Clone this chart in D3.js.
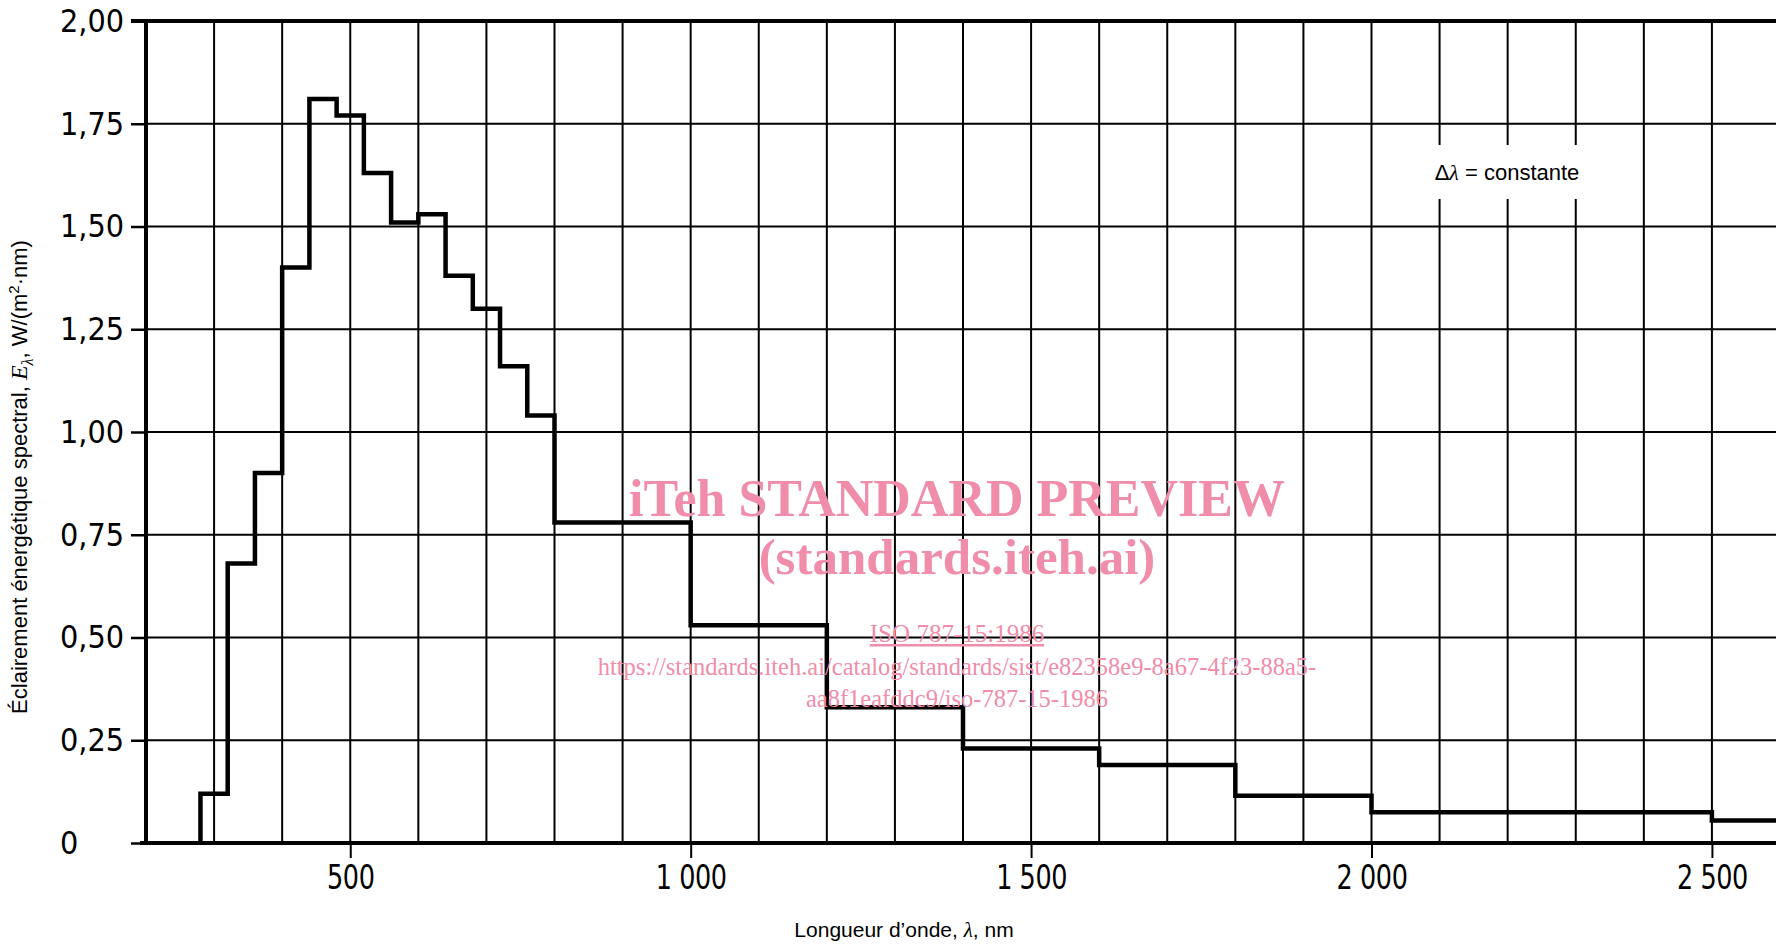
<!DOCTYPE html>
<html>
<head>
<meta charset="utf-8">
<script src="https://cdn.jsdelivr.net/npm/d3@7"></script>
<style>
  body { margin: 0; background: #fff; }
  svg { display: block; }
  .tick text { font-family: 'DejaVu Sans', sans-serif; font-stretch: condensed; }
</style>
</head>
<body>
<script>
const width = 1776,
      height = 945

// band lower edges (nm), upper edge of last band is outside the frame
const bandStart = [280, 320, 360, 400, 440, 480, 520, 560, 600, 640, 680, 720, 760, 800, 1000, 1200, 1400, 1600, 1800, 2000, 2500]
const bandEnd = [320, 360, 400, 440, 480, 520, 560, 600, 640, 680, 720, 760, 800, 1000, 1200, 1400, 1600, 1800, 2000, 2500, 3000]
// spectral irradiance W/(m2.nm)
const irradiance = [0.12, 0.68, 0.90, 1.40, 1.81, 1.77, 1.63, 1.51, 1.53, 1.38, 1.30, 1.16, 1.04, 0.78, 0.53, 0.33, 0.23, 0.19, 0.115, 0.075, 0.055]

const yTicks = [0, 0.25, 0.5, 0.75, 1, 1.25, 1.5, 1.75, 2]
const xTicks = [500, 1000, 1500, 2000, 2500]
const xGrid = d3.range(300, 2700, 100)

const svg = d3.select('body').append('svg')
    .attr('width', width)
    .attr('height', height)

svg.append('rect').attr('width', width).attr('height', height).attr('fill', '#fff')

const x = d3.scaleLinear().domain([200, 2600]).range([146, 1780])
const y = d3.scaleLinear().domain([0, 2]).range([843, 21])

// grid
svg.append('g').selectAll('line')
    .data(yTicks.slice(1, -1))
    .enter()
    .append('line')
        .attr('x1', x(200)).attr('x2', width)
        .attr('y1', d => y(d)).attr('y2', d => y(d))
        .style('stroke', '#000')
        .style('stroke-width', 2)

svg.append('g').selectAll('line')
    .data(xGrid)
    .enter()
    .append('line')
        .attr('x1', d => x(d)).attr('x2', d => x(d))
        .attr('y1', y(0)).attr('y2', y(2))
        .style('stroke', '#000')
        .style('stroke-width', 2)

// white box behind the note
svg.append('rect')
    .attr('x', 1428).attr('y', 145)
    .attr('width', 162).attr('height', 54)
    .attr('fill', '#fff')

const note = svg.append('text')
    .attr('x', 1507).attr('y', 180)
    .attr('text-anchor', 'middle')
    .style('font-family', 'Liberation Sans, Arial, sans-serif')
    .style('font-size', '22px')
note.append('tspan').text('Δ')
note.append('tspan').style('font-style', 'italic').style('font-family', 'Liberation Serif, serif').text('λ')
note.append('tspan').text(' = constante')

// y axis
const fmtY = d => d === 0 ? '0' : d3.format('.2f')(d).replace('.', ',')
const yAxis = svg.append('g')
    .attr('transform', `translate(${x(200)},0)`)
    .call(d3.axisLeft(y).tickValues(yTicks).tickSize(15).tickFormat(fmtY))
yAxis.select('.domain').remove()
yAxis.selectAll('.tick line').style('stroke', '#000').style('stroke-width', 2.5)
yAxis.selectAll('.tick text')
    .attr('x', -86)
    .attr('text-anchor', 'start')
    .style('font-size', '32px')
    .style('fill', '#000')

// x axis
const fmtX = d => d >= 1000 ? d3.format(',')(d).replace(',', ' ') : String(d)
const xAxis = svg.append('g')
    .attr('transform', `translate(0,${y(0)})`)
    .call(d3.axisBottom(x).tickValues(xTicks).tickSize(15).tickPadding(8).tickFormat(fmtX))
xAxis.select('.domain').remove()
xAxis.selectAll('.tick line').style('stroke', '#000').style('stroke-width', 2)
xAxis.selectAll('.tick text')
    .attr('transform', 'scale(0.86,1)')
    .style('font-size', '33px')
    .style('letter-spacing', '-0.5px')
    .style('fill', '#000')

// frame lines
svg.append('line')
    .attr('x1', x(200)).attr('x2', x(200))
    .attr('y1', y(2)).attr('y2', y(0))
    .style('stroke', '#000').style('stroke-width', 4)
svg.append('line')
    .attr('x1', x(200) - 15).attr('x2', width)
    .attr('y1', y(2)).attr('y2', y(2))
    .style('stroke', '#000').style('stroke-width', 4)
svg.append('line')
    .attr('x1', x(200) - 6).attr('x2', width)
    .attr('y1', y(0)).attr('y2', y(0))
    .style('stroke', '#000').style('stroke-width', 4)

// step curve
const pts = [[bandStart[0], 0]]
for (let i = 0; i < irradiance.length; i++) {
    pts.push([bandStart[i], irradiance[i]])
}
pts.push([bandEnd[bandEnd.length - 1], irradiance[irradiance.length - 1]])

const line = d3.line()
    .x(d => x(d[0]))
    .y(d => y(d[1]))
    .curve(d3.curveStepAfter)

svg.append('path')
    .datum(pts)
    .attr('d', line)
    .style('fill', 'none')
    .style('stroke', '#000')
    .style('stroke-width', 4.5)
    .style('stroke-linejoin', 'miter')

// axis titles
const yTitle = svg.append('text')
    .attr('transform', 'translate(27,477) rotate(-90)')
    .attr('text-anchor', 'middle')
    .style('font-family', 'Liberation Sans, Arial, sans-serif')
    .style('font-size', '22px')
yTitle.append('tspan').text('Éclairement énergétique spectral, ')
yTitle.append('tspan').style('font-style', 'italic').style('font-family', 'Liberation Serif, serif').style('font-size', '24px').text('E')
yTitle.append('tspan').attr('dy', 6).style('font-style', 'italic').style('font-family', 'Liberation Serif, serif').style('font-size', '16px').text('λ')
yTitle.append('tspan').attr('dy', -6).text(', W/(m')
yTitle.append('tspan').attr('dy', -8).style('font-size', '15px').text('2')
yTitle.append('tspan').attr('dy', 8).text('·nm)')

const xTitle = svg.append('text')
    .attr('x', 904).attr('y', 937)
    .attr('text-anchor', 'middle')
    .style('font-family', 'Liberation Sans, Arial, sans-serif')
    .style('font-size', '21px')
xTitle.append('tspan').text('Longueur d’onde, ')
xTitle.append('tspan').style('font-style', 'italic').style('font-family', 'Liberation Serif, serif').text('λ')
xTitle.append('tspan').text(', nm')

// preview watermark
const pink = '#ef8dab'
const wm = [
    { t: 'iTeh STANDARD PREVIEW', y: 516, size: 52, bold: true, u: false },
    { t: '(standards.iteh.ai)', y: 574, size: 51, bold: true, u: false },
    { t: 'ISO 787-15:1986', y: 642, size: 25, bold: false, u: true },
    { t: 'https://standards.iteh.ai/catalog/standards/sist/e82358e9-8a67-4f23-88a5-', y: 675, size: 24.5, bold: false, u: false },
    { t: 'aa8f1eafddc9/iso-787-15-1986', y: 707, size: 24.5, bold: false, u: false }
]
svg.append('g').selectAll('text')
    .data(wm)
    .enter()
    .append('text')
        .attr('x', 957)
        .attr('y', d => d.y)
        .attr('text-anchor', 'middle')
        .style('font-family', 'Liberation Serif, serif')
        .style('font-size', d => d.size + 'px')
        .style('font-weight', d => d.bold ? 'bold' : 'normal')
        .style('text-decoration', d => d.u ? 'underline' : 'none')
        .style('fill', pink)
        .text(d => d.t)
</script>
</body>
</html>
